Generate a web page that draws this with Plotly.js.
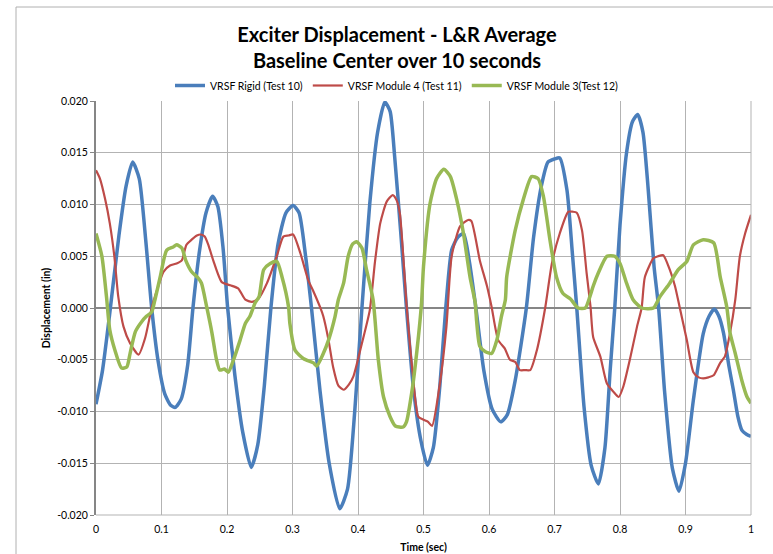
<!DOCTYPE html>
<html>
<head>
<meta charset="utf-8">
<script src="https://cdn.plot.ly/plotly-3.0.1.min.js"></script>
<style>html,body{margin:0;padding:0;background:#fff;}#chart{width:773px;height:554px;}</style>
</head>
<body>
<div id="chart"></div>
<script>
// ---- Data ----
const titleText = "Exciter Displacement - L&R Average<br>Baseline Center over 10 seconds";
const seriesNames = ["VRSF Rigid (Test 10)", "VRSF Module 4 (Test 11)", "VRSF Module 3(Test 12)"];

const rigidX = [0, 0.010, 0.021, 0.035, 0.046, 0.056, 0.066, 0.076, 0.085, 0.095, 0.105, 0.114, 0.121, 0.130, 0.140, 0.148, 0.158, 0.168, 0.178, 0.186, 0.194, 0.201, 0.212, 0.224, 0.237, 0.247, 0.257, 0.267, 0.278, 0.290, 0.301, 0.310, 0.320, 0.329, 0.342, 0.356, 0.372, 0.384, 0.395, 0.406, 0.418, 0.430, 0.441, 0.449, 0.456, 0.465, 0.474, 0.485, 0.496, 0.506, 0.515, 0.525, 0.534, 0.543, 0.552, 0.561, 0.570, 0.580, 0.592, 0.605, 0.618, 0.628, 0.640, 0.657, 0.668, 0.680, 0.690, 0.700, 0.708, 0.719, 0.727, 0.734, 0.745, 0.756, 0.767, 0.777, 0.785, 0.792, 0.800, 0.810, 0.819, 0.827, 0.835, 0.843, 0.852, 0.859, 0.868, 0.880, 0.890, 0.900, 0.912, 0.927, 0.936, 0.944, 0.951, 0.958, 0.966, 0.973, 0.980, 0.986, 0.993, 1.0];
const rigidY = [-0.0093, -0.0060, -0.0005, 0.0070, 0.0118, 0.0141, 0.0125, 0.0065, 0.0000, -0.0052, -0.0083, -0.0094, -0.0096, -0.0088, -0.0055, 0.0000, 0.0055, 0.0092, 0.0108, 0.0098, 0.0058, 0.0000, -0.0065, -0.0120, -0.0154, -0.0132, -0.0075, 0.0000, 0.0062, 0.0092, 0.0099, 0.0092, 0.0050, 0.0000, -0.0080, -0.0150, -0.0194, -0.0175, -0.0100, 0.0000, 0.0101, 0.0170, 0.0199, 0.0190, 0.0146, 0.0075, 0.0000, -0.0080, -0.0128, -0.0152, -0.0135, -0.0075, 0.0000, 0.0056, 0.0068, 0.0072, 0.0045, 0.0000, -0.0060, -0.0098, -0.0110, -0.0103, -0.0070, 0.0000, 0.0068, 0.0118, 0.0141, 0.0144, 0.0145, 0.0114, 0.0055, 0.0000, -0.0095, -0.0152, -0.0170, -0.0135, -0.0060, 0.0000, 0.0080, 0.0150, 0.0180, 0.0187, 0.0170, 0.0115, 0.0040, 0.0000, -0.0080, -0.0155, -0.0177, -0.0150, -0.0089, -0.0025, -0.0008, -0.0001, -0.0008, -0.0024, -0.0055, -0.0079, -0.0105, -0.0118, -0.0122, -0.0124];

const mod4X = [0, 0.006, 0.014, 0.021, 0.028, 0.034, 0.042, 0.052, 0.065, 0.075, 0.085, 0.093, 0.103, 0.113, 0.123, 0.131, 0.138, 0.146, 0.154, 0.160, 0.166, 0.172, 0.179, 0.192, 0.205, 0.217, 0.228, 0.238, 0.248, 0.261, 0.276, 0.286, 0.294, 0.301, 0.312, 0.324, 0.332, 0.342, 0.347, 0.355, 0.362, 0.370, 0.378, 0.386, 0.393, 0.406, 0.418, 0.426, 0.434, 0.444, 0.453, 0.459, 0.464, 0.474, 0.483, 0.492, 0.500, 0.507, 0.513, 0.525, 0.535, 0.543, 0.556, 0.568, 0.573, 0.586, 0.597, 0.604, 0.614, 0.624, 0.632, 0.640, 0.647, 0.655, 0.663, 0.673, 0.686, 0.696, 0.708, 0.721, 0.728, 0.734, 0.742, 0.749, 0.755, 0.759, 0.770, 0.780, 0.790, 0.798, 0.805, 0.815, 0.826, 0.833, 0.838, 0.851, 0.858, 0.866, 0.876, 0.884, 0.891, 0.902, 0.912, 0.920, 0.927, 0.935, 0.943, 0.953, 0.960, 0.968, 0.976, 0.983, 0.991, 1.0];
const mod4Y = [0.0133, 0.0125, 0.0105, 0.0082, 0.0050, 0.0011, -0.0018, -0.0034, -0.0045, -0.0029, 0.0000, 0.0017, 0.0035, 0.0041, 0.0043, 0.0046, 0.0061, 0.0066, 0.0070, 0.0071, 0.0069, 0.0060, 0.0046, 0.0025, 0.0022, 0.0019, 0.0008, 0.0006, 0.0009, 0.0024, 0.0050, 0.0069, 0.0070, 0.0071, 0.0053, 0.0027, 0.0016, 0.0001, -0.0008, -0.0031, -0.0057, -0.0075, -0.0079, -0.0074, -0.0066, -0.0034, -0.0002, 0.0045, 0.0082, 0.0103, 0.0109, 0.0104, 0.0091, 0.0004, -0.0060, -0.0105, -0.0108, -0.0110, -0.0114, -0.0073, -0.0018, 0.0050, 0.0079, 0.0085, 0.0084, 0.0046, 0.0021, 0.0001, -0.0031, -0.0039, -0.0050, -0.0052, -0.0060, -0.0060, -0.0060, -0.0041, 0.0001, 0.0043, 0.0072, 0.0093, 0.0093, 0.0092, 0.0075, 0.0034, 0.0001, -0.0028, -0.0047, -0.0073, -0.0081, -0.0086, -0.0076, -0.0050, -0.0018, 0.0000, 0.0030, 0.0048, 0.0050, 0.0051, 0.0037, 0.0021, 0.0001, -0.0031, -0.0062, -0.0067, -0.0068, -0.0067, -0.0065, -0.0053, -0.0047, -0.0024, 0.0008, 0.0050, 0.0072, 0.0090];

const mod3X = [0, 0.009, 0.016, 0.021, 0.029, 0.039, 0.047, 0.052, 0.060, 0.070, 0.077, 0.085, 0.090, 0.098, 0.108, 0.118, 0.123, 0.131, 0.137, 0.146, 0.156, 0.161, 0.169, 0.177, 0.184, 0.189, 0.196, 0.202, 0.210, 0.220, 0.228, 0.235, 0.243, 0.249, 0.256, 0.266, 0.276, 0.284, 0.294, 0.296, 0.304, 0.317, 0.332, 0.337, 0.347, 0.355, 0.365, 0.370, 0.378, 0.385, 0.392, 0.398, 0.406, 0.413, 0.423, 0.431, 0.439, 0.449, 0.457, 0.469, 0.474, 0.482, 0.490, 0.497, 0.500, 0.510, 0.520, 0.531, 0.541, 0.551, 0.561, 0.571, 0.579, 0.581, 0.586, 0.594, 0.604, 0.612, 0.619, 0.625, 0.627, 0.640, 0.652, 0.665, 0.675, 0.683, 0.693, 0.703, 0.713, 0.724, 0.736, 0.747, 0.754, 0.759, 0.767, 0.780, 0.792, 0.800, 0.810, 0.820, 0.833, 0.851, 0.861, 0.876, 0.889, 0.902, 0.912, 0.927, 0.943, 0.953, 0.963, 0.968, 0.976, 0.986, 0.994, 1.0];
const mod3Y = [0.0072, 0.0050, 0.0011, -0.0021, -0.0041, -0.0058, -0.0057, -0.0044, -0.0023, -0.0013, -0.0008, -0.0004, 0.0008, 0.0030, 0.0056, 0.0059, 0.0061, 0.0058, 0.0046, 0.0035, 0.0029, 0.0024, 0.0001, -0.0024, -0.0050, -0.0060, -0.0059, -0.0062, -0.0050, -0.0031, -0.0015, -0.0008, 0.0005, 0.0011, 0.0037, 0.0043, 0.0045, 0.0030, 0.0001, -0.0015, -0.0041, -0.0049, -0.0053, -0.0056, -0.0044, -0.0031, -0.0008, 0.0008, 0.0024, 0.0050, 0.0062, 0.0064, 0.0058, 0.0037, 0.0008, -0.0050, -0.0086, -0.0105, -0.0114, -0.0115, -0.0110, -0.0082, -0.0041, 0.0005, 0.0040, 0.0101, 0.0125, 0.0134, 0.0127, 0.0104, 0.0072, 0.0030, 0.0005, -0.0012, -0.0037, -0.0042, -0.0044, -0.0031, -0.0008, 0.0008, 0.0030, 0.0075, 0.0104, 0.0127, 0.0125, 0.0108, 0.0066, 0.0030, 0.0014, 0.0009, 0.0000, 0.0000, 0.0011, 0.0021, 0.0034, 0.0050, 0.0050, 0.0043, 0.0024, 0.0008, 0.0000, 0.0000, 0.0011, 0.0024, 0.0037, 0.0045, 0.0061, 0.0066, 0.0063, 0.0030, 0.0001, -0.0024, -0.0044, -0.0070, -0.0086, -0.0092];

const yTickVals = [-0.020, -0.015, -0.010, -0.005, 0.000, 0.005, 0.010, 0.015, 0.020];
const yTickText = ["-0.020", "-0.015", "-0.010", "-0.005", "0.000", "0.005", "0.010", "0.015", "0.020"];
const xTickVals = [0, 0.1, 0.2, 0.3, 0.4, 0.5, 0.6, 0.7, 0.8, 0.9, 1];
const xTickText = ["0", "0.1", "0.2", "0.3", "0.4", "0.5", "0.6", "0.7", "0.8", "0.9", "1"];
const xTitle = "Time (sec)";
const yTitle = "Displacement (in)";

// ---- Chart ----
const FONT = "Lato, 'Open Sans', sans-serif";
const traces = [
  {x: rigidX, y: rigidY, name: seriesNames[0], type: 'scatter', mode: 'lines',
   line: {color: '#4A7EBB', width: 3.5, shape: 'spline', smoothing: 0.6}},
  {x: mod4X, y: mod4Y, name: seriesNames[1], type: 'scatter', mode: 'lines',
   line: {color: '#BE4B48', width: 2.2, shape: 'spline', smoothing: 0.6}},
  {x: mod3X, y: mod3Y, name: seriesNames[2], type: 'scatter', mode: 'lines',
   line: {color: '#98B954', width: 3.5, shape: 'spline', smoothing: 0.6}}
];

const layout = {
  width: 773, height: 554,
  margin: {l: 96, r: 22, t: 101, b: 39, pad: 0},
  paper_bgcolor: '#ffffff', plot_bgcolor: '#ffffff',
  font: {family: FONT, color: '#000000', size: 10},
  title: {text: titleText, font: {family: FONT, size: 20, color: '#000', weight: 'bold'},
          x: 397/773, xref: 'container', xanchor: 'center', y: 1 - 42/554, yref: 'container', yanchor: 'top'},
  showlegend: true,
  legend: {orientation: 'h', x: 397/773, xref: 'container', xanchor: 'center', y: 1 - 71/554, yref: 'container', yanchor: 'top',
           font: {family: FONT, size: 10.5, color: '#000'}, bgcolor: 'rgba(0,0,0,0)', itemwidth: 30, tracegroupgap: 0},
  xaxis: {range: [0, 1], tickvals: xTickVals, ticktext: xTickText, showgrid: true, gridcolor: '#B3B3B3', gridwidth: 1,
          zeroline: false, showline: false, ticks: '', ticklabelstandoff: 6, tickfont: {family: FONT, size: 10.5, color: '#000'},
          title: {text: xTitle, font: {family: FONT, size: 10.5, weight: 'bold', color: '#000'}, standoff: 10},
          fixedrange: true, automargin: false},
  yaxis: {range: [-0.020, 0.020], tickvals: yTickVals, ticktext: yTickText, showgrid: true, gridcolor: '#B3B3B3', gridwidth: 1,
          zeroline: true, zerolinecolor: '#868686', zerolinewidth: 2,
          showline: true, linecolor: '#868686', linewidth: 2, ticks: 'outside', ticklen: 4, tickcolor: '#868686',
          tickfont: {family: FONT, size: 10.5, color: '#000'},
          title: {text: yTitle, font: {family: FONT, size: 10.5, weight: 'bold', color: '#000'}, standoff: 4},
          fixedrange: true, automargin: false},
  shapes: [
    {type: 'rect', xref: 'paper', yref: 'paper', x0: (16-96)/655, x1: (800-96)/655, y0: (515-600)/414, y1: (515-7)/414,
     line: {color: '#B0B0B0', width: 1}, fillcolor: 'rgba(0,0,0,0)', layer: 'below'},
    {type: 'line', xref: 'paper', yref: 'paper', x0: 0, x1: 1, y0: 0, y1: 0, line: {color: '#B3B3B3', width: 1}},
    {type: 'line', xref: 'paper', yref: 'paper', x0: 1, x1: 1, y0: 0, y1: 1, line: {color: '#B3B3B3', width: 1}}
  ]
};

Plotly.newPlot('chart', traces, layout, {displayModeBar: false, staticPlot: true});
</script>
</body>
</html>
